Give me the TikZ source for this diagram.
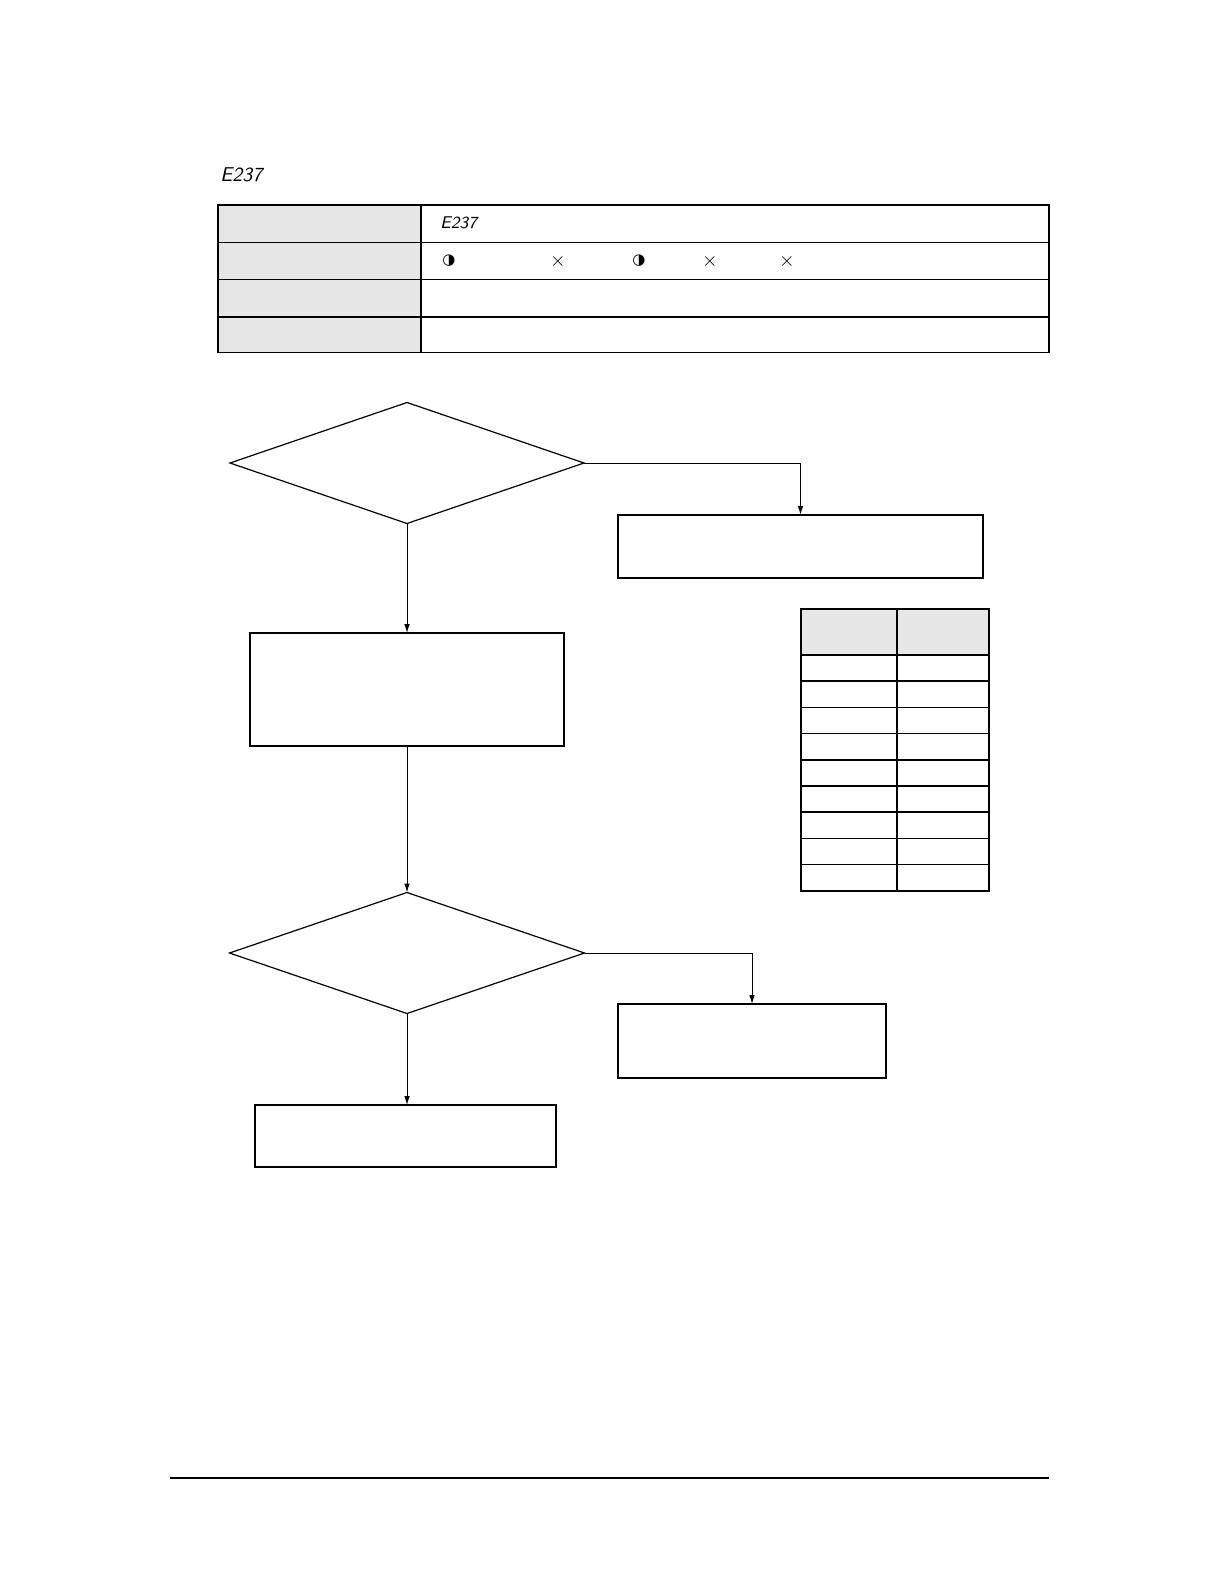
\documentclass[tikz,border=0pt]{standalone}
\usepackage{fontspec}
\newfontfamily\symfont{DejaVu Sans}
\usetikzlibrary{shapes.geometric,arrows.meta}
\definecolor{cellgray}{HTML}{E6E6E7}
\tikzset{
  box/.style={draw,line width=0.6pt,inner sep=0pt,outer sep=0pt},
  decision/.style={draw,diamond,line width=0.6pt,inner sep=0pt,outer sep=0pt},
  flow/.style={line width=0.5pt,-{Latex[length=4.5pt,width=2.8pt]}},
  grid/.style={line width=0.75pt},
  code/.style={font=\sffamily\itshape,inner sep=0pt,anchor=west}
}
\begin{document}
\begin{tikzpicture}[x=0.5pt,y=-0.5pt]
	\useasboundingbox (0,0) rectangle (1224,1584);
	% heading
	\node[code,font=\sffamily\itshape\fontsize{10}{12}\selectfont] (title) at (220,175) {E237};
	% info table
	\fill[cellgray] (218,205) rectangle (421,352.5);
	\draw[line width=1.4pt] (218,205) -- (1049,205);
	\draw[grid] (218,205) rectangle (1049,352.5);
	\draw[grid] (421,205) -- (421,352.5);
	\foreach \y in {242.4,279.7,317} \draw[grid] (218,\y) -- (1049,\y);
	\node[code,font=\sffamily\itshape\fontsize{8.5}{10}\selectfont] (rowcode) at (440,223) {E237};
	\node[font=\symfont\fontsize{7.5}{9}\selectfont] (ledA) at (449,261) {◑};
	\node (offA) at (558,261) {$\times$};
	\node[font=\symfont\fontsize{7.5}{9}\selectfont] (ledB) at (639,261) {◑};
	\node (offB) at (710,261) {$\times$};
	\node (offC) at (787,261) {$\times$};
	% flow chart
	\node[decision,minimum width=177pt,minimum height=60.5pt] (check1) at (407,463) {};
	\node[box,minimum width=182.5pt,minimum height=31.5pt] (fix1) at (800.5,546.5) {};
	\node[box,minimum width=157pt,minimum height=56.5pt] (step1) at (407,689.5) {};
	\node[decision,minimum width=177.5pt,minimum height=60.5pt] (check2) at (407,953) {};
	\node[box,minimum width=134pt,minimum height=37pt] (fix2) at (752,1041) {};
	\node[box,minimum width=150.5pt,minimum height=31pt] (step2) at (405.5,1136) {};
	\draw[flow] (check1.east) -| (fix1.north);
	\draw[flow] (check1.south) -- (check1.south |- step1.north);
	\draw[flow] (step1.south) -- (step1.south |- check2.north);
	\draw[flow] (check2.east) -| (fix2.north);
	\draw[flow] (check2.south) -- (check2.south |- step2.north);
	% resistance table
	\fill[cellgray] (801,609) rectangle (989,655);
	\draw[grid] (801,609) rectangle (989,890.8);
	\draw[grid] (897,609) -- (897,890.8);
	\foreach \r in {0,...,8} \draw[grid] (801,{655+26.2*\r}) -- (989,{655+26.2*\r});
	\draw[line width=1.3pt] (801,890.8) -- (989,890.8);
	% footer rule
	\draw[line width=1.1pt] (170,1478) -- (1049,1478);
\end{tikzpicture}
\end{document}
